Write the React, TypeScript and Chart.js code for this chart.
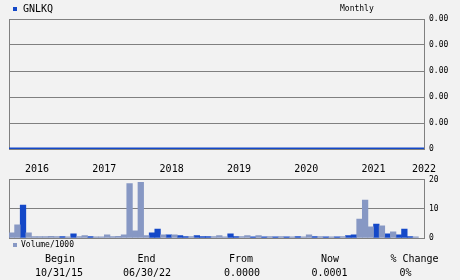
import React, { useEffect, useRef } from 'react';
import { Chart, registerables } from 'chart.js';

Chart.register(...registerables);

// ---------- data ----------
const ticker = 'GNLKQ';
const periodLabel = 'Monthly';
const volumeLabel = 'Volume/1000';

// year ticks (month-slot index where each year starts) and their labels
const yearTickValues = [5, 17, 29, 41, 53, 65, 74];
const yearTickLabels = ['2016', '2017', '2018', '2019', '2020', '2021', '2022'];

// price axis ticks
const priceTickValues = [0, 0.0008, 0.0016, 0.0024, 0.0032, 0.004];
// volume axis ticks (thousands)
const volumeTickValues = [0, 10, 20];

// price: starting value, then month-end closes (74 slots)
const priceStart = 0;
const priceCloses = [
  0, 0, 0, 0, 0, 0, 0, 0, 0, 0,
  0, 0, 0, 0, 0, 0, 0, 0, 0, 0,
  0, 0, 0, 0, 0, 0, 0, 0, 0, 0,
  0, 0, 0, 0, 0, 0, 0, 0, 0, 0,
  0, 0, 0, 0, 0, 0, 0, 0, 0, 0,
  0, 0, 0, 0, 0, 0, 0, 0, 0, 0,
  0, 0, 0, 0, 0, 0, 0, 0, 0, 0,
  0, 0, 0, 0,
];

// monthly volume (thousands); up months and down months, null where not applicable
const volumeUp = [
  null, null, 11.3, null, null, null, null, null, null, 0.5,
  null, 1.4, null, null, 0.5, null, null, null, null, null,
  null, null, null, null, null, 1.8, 3.1, null, 1.1, null,
  0.8, 0.5, null, 0.8, 0.5, 0.5, null, null, null, 1.4,
  0.5, null, null, 0.4, null, 0.4, null, 0.4, null, 0.4,
  null, 0.5, null, null, 0.5, null, 0.4, null, 0.4, null,
  0.8, 1.1, null, null, null, 4.8, null, 1.4, null, 1.1,
  3.1, 0.5, null, null,
];
const volumeDown = [
  1.8, 4.5, null, 1.8, 0.5, 0.5, 0.5, 0.6, 0.5, null,
  0.4, null, 0.5, 0.8, null, 0.4, 0.4, 1.1, 0.5, 0.6,
  1.1, 18.7, 2.45, 19.1, 0.8, null, null, 1.1, null, 1.1,
  null, null, 0.5, null, null, null, 0.5, 0.8, 0.4, null,
  null, 0.5, 0.8, null, 0.8, null, 0.5, null, 0.5, null,
  0.4, null, 0.4, 1.1, null, 0.5, null, 0.4, null, 0.5,
  null, null, 6.5, 13.0, 3.8, null, 4.2, null, 2.1, null,
  null, null, 0.4, null,
];

const statHeads = ['Begin', 'End', 'From', 'Now', '% Change'];
const statValues = ['10/31/15', '06/30/22', '0.0000', '0.0001', '0%'];

// ---------- styles ----------
const BG = '#f2f2f2';
const GRID = '#808080';
const BLUE = '#1448c8';
const LIGHT = '#8798c4';
const MONO = "'DejaVu Sans Mono', monospace";
const SLOTS = 74;

const framePlugin = {
  id: 'frame',
  beforeDatasetsDraw(chart: any) {
    const { ctx, chartArea } = chart;
    ctx.save();
    ctx.strokeStyle = GRID;
    ctx.lineWidth = 1;
    ctx.beginPath();
    ctx.moveTo(Math.round(chartArea.left) + 0.5, chartArea.top);
    ctx.lineTo(Math.round(chartArea.left) + 0.5, chartArea.bottom);
    ctx.stroke();
    ctx.restore();
  },
};

function Txt(props: { x: number; cy: number; size: number; align?: 'left' | 'center'; children: any }) {
  const { x, cy, size, align = 'left', children } = props;
  return (
    <div
      style={{
        position: 'absolute',
        left: x,
        top: cy - 0.48 * size,
        fontFamily: MONO,
        fontSize: size,
        lineHeight: `${size}px`,
        whiteSpace: 'nowrap',
        color: '#000',
        transform: align === 'center' ? 'translateX(-50%)' : undefined,
      }}
    >
      {children}
    </div>
  );
}

export default function App() {
  const priceRef = useRef<HTMLCanvasElement>(null);
  const volRef = useRef<HTMLCanvasElement>(null);

  useEffect(() => {
    const pricePoints = [{ x: 0, y: priceStart }, ...priceCloses.map((v, i) => ({ x: i + 1, y: v }))];
    const toBars = (arr: (number | null)[]) =>
      arr.map((v, i) => (v == null ? null : { x: i + 0.5, y: v })).filter((p) => p !== null);

    const priceChart = new Chart(priceRef.current!, {
      type: 'line',
      data: {
        datasets: [
          {
            data: pricePoints as any,
            borderColor: BLUE,
            borderWidth: 3,
            pointRadius: 0,
            tension: 0,
          },
        ],
      },
      options: {
        animation: false,
        responsive: false,
        devicePixelRatio: 1,
        layout: { padding: { left: 9, top: 19, right: 0, bottom: 0 } },
        plugins: { legend: { display: false }, tooltip: { enabled: false } },
        scales: {
          x: {
            type: 'linear',
            min: 0,
            max: SLOTS,
            grid: { display: false, drawTicks: false },
            border: { display: false },
            afterBuildTicks: (s: any) => {
              s.ticks = yearTickValues.map((v) => ({ value: v }));
            },
            afterFit: (s: any) => {
              s.height = 29;
            },
            ticks: {
              autoSkip: false,
              maxRotation: 0,
              padding: 14,
              color: '#000',
              font: { family: MONO, size: 10 },
              callback: (v: any) => {
                const i = yearTickValues.indexOf(Number(v));
                return i >= 0 ? yearTickLabels[i] : '';
              },
            },
          },
          y: {
            type: 'linear',
            position: 'right',
            min: 0,
            max: priceTickValues[priceTickValues.length - 1],
            afterBuildTicks: (s: any) => {
              s.ticks = priceTickValues.map((v) => ({ value: v }));
            },
            afterFit: (s: any) => {
              s.width = 36;
            },
            grid: { color: GRID, lineWidth: 1, drawTicks: false },
            border: { display: true, color: GRID },
            ticks: {
              padding: 5,
              color: '#000',
              font: { family: MONO, size: 8 },
              callback: (v: any) => (Number(v) === 0 ? '0' : Number(v).toFixed(2)),
            },
          },
        },
      },
      plugins: [framePlugin],
    });

    const volChart = new Chart(volRef.current!, {
      type: 'bar',
      data: {
        datasets: [
          {
            data: toBars(volumeDown) as any,
            backgroundColor: LIGHT,
            borderWidth: 0,
            barPercentage: 1,
            categoryPercentage: 1,
            grouped: false,
          },
          {
            data: toBars(volumeUp) as any,
            backgroundColor: BLUE,
            borderWidth: 0,
            barPercentage: 1,
            categoryPercentage: 1,
            grouped: false,
          },
        ],
      },
      options: {
        animation: false,
        responsive: false,
        devicePixelRatio: 1,
        layout: { padding: { left: 9, top: 9, right: 0, bottom: 12 } },
        plugins: { legend: { display: false }, tooltip: { enabled: false } },
        scales: {
          x: {
            type: 'linear',
            min: 0,
            max: SLOTS,
            display: false,
            offset: false,
          },
          y: {
            type: 'linear',
            position: 'right',
            min: 0,
            max: volumeTickValues[volumeTickValues.length - 1],
            afterBuildTicks: (s: any) => {
              s.ticks = volumeTickValues.map((v) => ({ value: v }));
            },
            afterFit: (s: any) => {
              s.width = 36;
            },
            grid: { color: GRID, lineWidth: 1, drawTicks: false },
            border: { display: true, color: GRID },
            ticks: {
              padding: 5,
              color: '#000',
              font: { family: MONO, size: 8 },
            },
          },
        },
      },
      plugins: [framePlugin],
    });

    return () => {
      priceChart.destroy();
      volChart.destroy();
    };
  }, []);

  const headX = [60, 146.5, 241, 330, 414.5];
  const valX = [59, 147, 242, 329.5, 405.5];

  return (
    <div style={{ position: 'fixed', left: 0, top: 0, width: 460, height: 280, background: BG, overflow: 'hidden' }}>
      <canvas ref={priceRef} width={460} height={178} style={{ position: 'absolute', left: 0, top: 0, width: 460, height: 178 }} />
      <canvas ref={volRef} width={460} height={80} style={{ position: 'absolute', left: 0, top: 170, width: 460, height: 80 }} />

      <div style={{ position: 'absolute', left: 13, top: 7, width: 4, height: 4, background: BLUE }} />
      <Txt x={23} cy={9} size={10}>{ticker}</Txt>
      <Txt x={340} cy={9} size={8}>{periodLabel}</Txt>

      <div style={{ position: 'absolute', left: 13, top: 243, width: 4, height: 4, background: LIGHT }} />
      <Txt x={21} cy={245} size={8}>{volumeLabel}</Txt>

      {statHeads.map((h, i) => (
        <Txt key={'h' + i} x={headX[i]} cy={259} size={10} align="center">{h}</Txt>
      ))}
      {statValues.map((v, i) => (
        <Txt key={'v' + i} x={valX[i]} cy={273} size={10} align="center">{v}</Txt>
      ))}
    </div>
  );
}
